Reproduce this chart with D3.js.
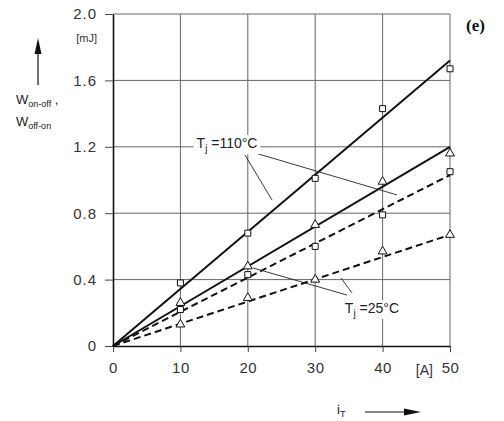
<!DOCTYPE html>
<html>
<head>
<meta charset="utf-8">
<script src="https://cdn.jsdelivr.net/npm/d3@7"></script>
<style>
  body { margin: 0; background: #fff; }
  svg { display: block; }
  .tick text { font-family: "Liberation Sans", Arial, sans-serif; fill: #333; }
</style>
</head>
<body>
<svg id="chart" width="504" height="421"></svg>
<script>
// values
const currents = [10, 20, 30, 40, 50];
const hotSquares = [0.38, 0.68, 1.01, 1.43, 1.67];   // Tj = 110°C, solid
const hotTriangles = [0.26, 0.48, 0.73, 0.99, 1.16];
const coldSquares = [0.22, 0.43, 0.60, 0.79, 1.05];  // Tj = 25°C, dashed
const coldTriangles = [0.13, 0.29, 0.40, 0.57, 0.67];
const fitEnds = [1.72, 1.20, 1.03, 0.67];            // fitted lines at 50 A
const xTicks = [0, 10, 20, 30, 40, 50];
const yTicks = [0, 0.4, 0.8, 1.2, 1.6, 2.0];

const width = 504, height = 421;
const margin = { top: 14, right: 54, bottom: 75, left: 113 };

const svg = d3.select('#chart');

const x = d3.scaleLinear().domain([0, 50]).range([margin.left, width - margin.right]);
const y = d3.scaleLinear().domain([0, 2]).range([height - margin.bottom, margin.top]);

// grid
const grid = svg.append('g').attr('class', 'grid').attr('stroke', '#666').attr('stroke-width', 1);
grid.selectAll('.v').data(xTicks.slice(1)).join('line')
  .attr('x1', (d) => x(d)).attr('x2', (d) => x(d))
  .attr('y1', y(0)).attr('y2', y(2));
grid.selectAll('.h').data(yTicks.slice(1)).join('line')
  .attr('x1', x(0)).attr('x2', x(50))
  .attr('y1', (d) => y(d)).attr('y2', (d) => y(d));

// axes
const fmtY = (d) => (d === 0 ? '0' : d3.format('.1f')(d));
svg.append('g')
  .attr('transform', `translate(${x(0)},0)`)
  .call(d3.axisLeft(y).tickValues(yTicks).tickFormat(fmtY).tickSize(8).tickSizeOuter(0).tickPadding(8))
  .call((g) => g.select('.domain').attr('stroke', '#111').attr('stroke-width', 1.6))
  .call((g) => g.selectAll('.tick line').attr('stroke', '#444'))
  .call((g) => g.selectAll('.tick text').attr('font-size', 15).attr('letter-spacing', 1));

svg.append('g')
  .attr('transform', `translate(0,${y(0)})`)
  .call(d3.axisBottom(x).tickValues(xTicks).tickFormat(d3.format('d')).tickSize(6).tickSizeOuter(0).tickPadding(10))
  .call((g) => g.select('.domain').attr('stroke', '#111').attr('stroke-width', 1.6))
  .call((g) => g.selectAll('.tick line').attr('stroke', '#444'))
  .call((g) => g.selectAll('.tick text').attr('font-size', 15).attr('letter-spacing', 0.5));

const labelFont = '"Liberation Sans", Arial, sans-serif';

svg.append('text')
  .attr('x', x(0) - 16).attr('y', y(2) + 28)
  .attr('text-anchor', 'end')
  .attr('font-family', labelFont).attr('font-size', 11).attr('fill', '#333')
  .text('[mJ]');

svg.append('text')
  .attr('x', x(46.2)).attr('y', y(0) + 29)
  .attr('text-anchor', 'middle')
  .attr('font-family', labelFont).attr('font-size', 14).attr('fill', '#333')
  .text('[A]');

// fitted lines through the origin
const lines = [
  { end: fitEnds[0], dash: null },
  { end: fitEnds[1], dash: null },
  { end: fitEnds[2], dash: '7,4' },
  { end: fitEnds[3], dash: '7,4' },
];
svg.append('g').selectAll('line').data(lines).join('line')
  .attr('x1', x(0)).attr('y1', y(0))
  .attr('x2', x(50)).attr('y2', (d) => y(d.end))
  .attr('stroke', '#111').attr('stroke-width', 2)
  .attr('stroke-dasharray', (d) => d.dash);

// markers
const square = d3.symbol().type(d3.symbolSquare).size(36);
const triangle = d3.symbol().type(d3.symbolTriangle).size(34);
const series = [
  { vals: hotSquares, sym: square },
  { vals: hotTriangles, sym: triangle },
  { vals: coldSquares, sym: square },
  { vals: coldTriangles, sym: triangle },
];
series.forEach((s) => {
  svg.append('g').selectAll('path')
    .data(currents.map((c, i) => [c, s.vals[i]]))
    .join('path')
    .attr('transform', (d) => `translate(${x(d[0])},${y(d[1])})`)
    .attr('d', s.sym)
    .attr('fill', '#fff').attr('stroke', '#111').attr('stroke-width', 1);
});

// annotations (data units)
const annots = [
  { tx: 12.4, ty: 1.223, temp: '110', leaders: [[21.07, 1.163, 42.14, 0.91], [19.58, 1.15, 23.59, 0.88]] },
  { tx: 34.4, ty: 0.229, temp: '25', leaders: [[20.77, 0.47, 34.72, 0.307], [33.83, 0.41, 35.46, 0.32]] },
];
annots.forEach((a) => {
  const g = svg.append('g');
  g.selectAll('line').data(a.leaders).join('line')
    .attr('x1', (d) => x(d[0])).attr('y1', (d) => y(d[1]))
    .attr('x2', (d) => x(d[2])).attr('y2', (d) => y(d[3]))
    .attr('stroke', '#222').attr('stroke-width', 0.9);
  const t = g.append('text')
    .attr('x', x(a.tx)).attr('y', y(a.ty) + 5)
    .attr('font-family', labelFont).attr('font-size', 14).attr('fill', '#222');
  t.append('tspan').text('T');
  t.append('tspan').attr('font-size', 10).attr('dy', 4).text('j');
  t.append('tspan').attr('dy', -4).text(' =' + a.temp + '°C');
  const bb = t.node().getBBox();
  g.insert('rect', 'text')
    .attr('x', bb.x - 3).attr('y', bb.y).attr('width', bb.width + 6).attr('height', bb.height)
    .attr('fill', '#fff');
});

// y axis title with arrow
const yLab = svg.append('g');
yLab.append('line').attr('x1', 38).attr('x2', 38).attr('y1', 85).attr('y2', 52)
  .attr('stroke', '#111').attr('stroke-width', 1.2);
yLab.append('path').attr('d', 'M38,38 L34.5,54 L41.5,54 Z').attr('fill', '#111');
const w1 = yLab.append('text').attr('x', 16).attr('y', 104)
  .attr('font-family', labelFont).attr('font-size', 13).attr('fill', '#222');
w1.append('tspan').text('W');
w1.append('tspan').attr('font-size', 9).attr('dy', 3).text('on-off');
w1.append('tspan').attr('dy', -3).text(' ,');
const w2 = yLab.append('text').attr('x', 16).attr('y', 126)
  .attr('font-family', labelFont).attr('font-size', 13).attr('fill', '#222');
w2.append('tspan').text('W');
w2.append('tspan').attr('font-size', 9).attr('dy', 3).text('off-on');

// x axis title with arrow
const xLab = svg.append('g');
const it = xLab.append('text').attr('x', 337).attr('y', 414)
  .attr('font-family', labelFont).attr('font-size', 13).attr('fill', '#222');
it.append('tspan').text('i');
it.append('tspan').attr('font-size', 9).attr('dy', 3).text('T');
xLab.append('line').attr('x1', 365).attr('x2', 406).attr('y1', 412).attr('y2', 412)
  .attr('stroke', '#111').attr('stroke-width', 1.2);
xLab.append('path').attr('d', 'M421,412 L404,408.5 L404,415.5 Z').attr('fill', '#111');

// panel label
svg.append('text').attr('x', 466).attr('y', 31)
  .attr('font-family', '"Liberation Serif", "Times New Roman", serif')
  .attr('font-size', 17).attr('font-weight', 'bold').attr('fill', '#111')
  .text('(e)');
</script>
</body>
</html>
